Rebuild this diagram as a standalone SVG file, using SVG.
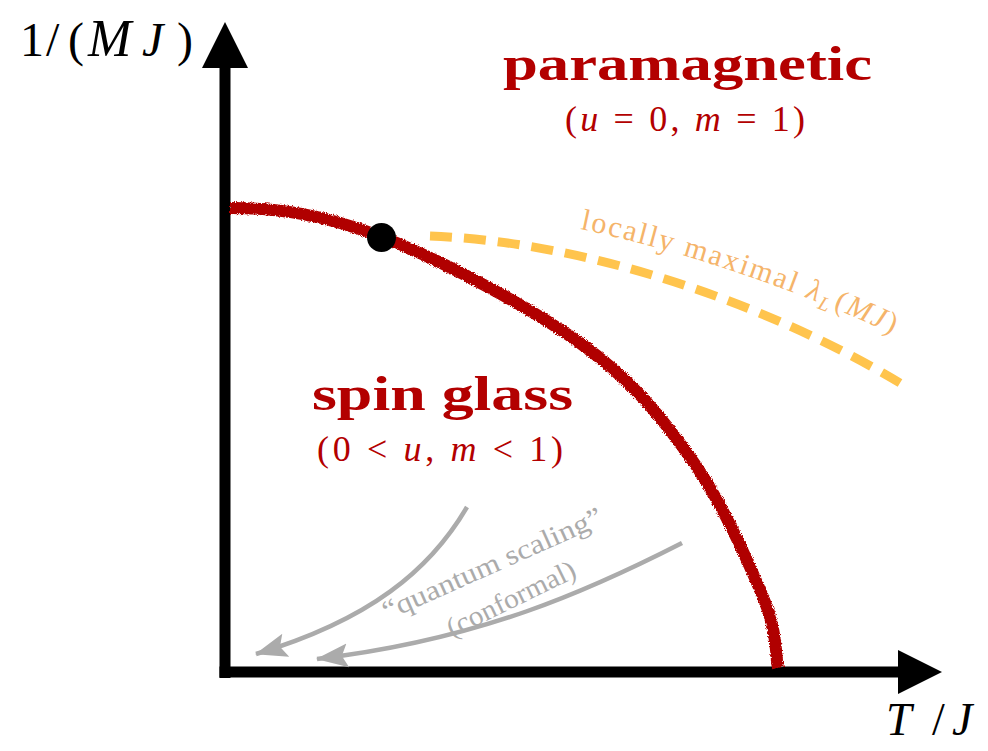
<svg xmlns="http://www.w3.org/2000/svg" width="988" height="751" viewBox="0 0 988 751">
  <style>
    .ser { font-family: "Liberation Serif", "DejaVu Serif", serif; }
    .red { fill: #b30000; }
    .it { font-style: italic; }
    .bold { font-weight: bold; }
    .gray { fill: #ababab; }
    .orange { fill: #f5b46a; }
  </style>
  <defs>
    <filter id="rough" x="-5%" y="-5%" width="110%" height="110%">
      <feTurbulence type="fractalNoise" baseFrequency="0.9" numOctaves="2" seed="3" result="n"/>
      <feDisplacementMap in="SourceGraphic" in2="n" scale="4" xChannelSelector="R" yChannelSelector="G"/>
    </filter>
    <marker id="garrow" markerUnits="userSpaceOnUse" markerWidth="32" markerHeight="26" refX="31" refY="13" orient="auto" viewBox="0 0 32 26">
      <path d="M32,13 L0,1 L6,13 L0,25 Z" fill="#ababab"/>
    </marker>
  </defs>

  <g id="axes">
    <line x1="225" y1="678" x2="225" y2="66" stroke="#000" stroke-width="11"/>
    <polygon points="202,68 248,68 225,22" fill="#000"/>
    <line x1="219.5" y1="672" x2="900" y2="672" stroke="#000" stroke-width="11"/>
    <polygon points="898,650 898,694 942,672" fill="#000"/>
    <text class="ser" y="56" font-size="48"><tspan x="20">1</tspan><tspan x="46">/</tspan><tspan x="68">(</tspan><tspan class="it" x="88" font-size="52">M</tspan><tspan class="it" x="142">J</tspan><tspan x="177">)</tspan></text>
    <text class="ser" y="735" font-size="46"><tspan class="it" x="886">T</tspan><tspan x="932">/</tspan><tspan class="it" x="952">J</tspan></text>
  </g>

  <g id="phase-boundary">
    <path filter="url(#rough)" d="M230,208 C280,208 323.7,214.5 382,237 C440.3,259.5 528.7,306.3 580,343 C631.3,379.7 659.5,414.7 690,457 C720.5,499.3 748.3,561.8 763,597 C777.7,632.2 775.5,656.2 778,668" fill="none" stroke="#b00000" stroke-width="12" stroke-linecap="butt"/>
  </g>

  <g id="lyapunov-line">
    <path d="M430,236 C590,242 770,305 900,383" fill="none" stroke="#ffc44d" stroke-width="9" stroke-dasharray="22 12"/>
    <path id="lblpath" d="M580,229 C680,250 800,290 910,342" fill="none"/>
    <text class="ser orange" font-size="30"><textPath href="#lblpath" textLength="330" lengthAdjust="spacing">locally maximal <tspan class="it">λ</tspan><tspan class="it" font-size="20" dy="6">L</tspan><tspan dy="-6" dx="2">(<tspan class="it">MJ</tspan>)</tspan></textPath></text>
  </g>

  <g id="critical-point">
    <circle cx="381.5" cy="237.5" r="14.5" fill="#000"/>
  </g>

  <g id="paramagnetic">
    <text class="ser red bold" x="687.5" y="80" font-size="48" text-anchor="middle" textLength="369" lengthAdjust="spacingAndGlyphs">paramagnetic</text>
    <text class="ser red" x="685" y="131" font-size="36" text-anchor="middle" textLength="240" lengthAdjust="spacing">(<tspan class="it">u</tspan> = 0, <tspan class="it">m</tspan> = 1)</text>
  </g>

  <g id="spin-glass">
    <text class="ser red bold" x="442.5" y="410" font-size="48" text-anchor="middle" textLength="261" lengthAdjust="spacingAndGlyphs">spin glass</text>
    <text class="ser red" x="440" y="461" font-size="36" text-anchor="middle" textLength="246" lengthAdjust="spacing">(0 &lt; <tspan class="it">u</tspan>, <tspan class="it">m</tspan> &lt; 1)</text>
  </g>

  <g id="connectors">
    <path d="M467,507 C430,570 370,620 256,654" fill="none" stroke="#ababab" stroke-width="4.5" marker-end="url(#garrow)"/>
    <path d="M682,543 C590,590 480,640 317,659" fill="none" stroke="#ababab" stroke-width="4.5" marker-end="url(#garrow)"/>
  </g>

  <g id="quantum-scaling">
    <text class="ser gray" font-size="28" text-anchor="middle" transform="translate(496,572) rotate(-24)" textLength="238" lengthAdjust="spacingAndGlyphs">“quantum scaling”</text>
    <text class="ser gray" font-size="28" text-anchor="middle" transform="translate(515,607) rotate(-26)" textLength="140" lengthAdjust="spacingAndGlyphs">(conformal)</text>
  </g>
</svg>
